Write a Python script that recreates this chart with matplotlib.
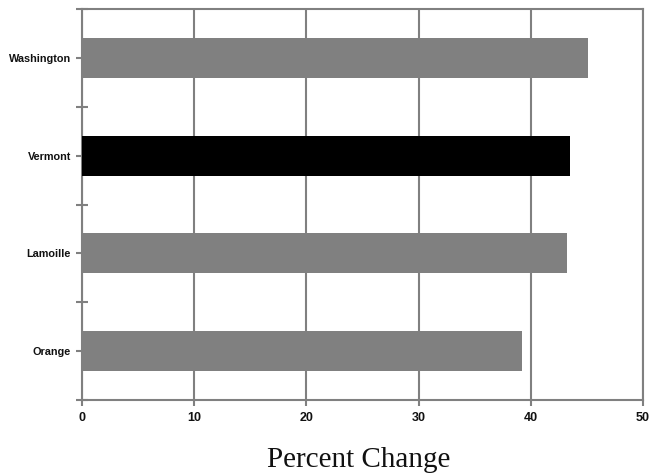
import matplotlib
matplotlib.use("Agg")
import matplotlib.pyplot as plt
from matplotlib.ticker import FixedLocator

categories = ["Orange", "Lamoille", "Vermont", "Washington"]
values = [39.2, 43.2, 43.5, 45.1]
bar_colors = ["#808080", "#808080", "#000000", "#808080"]
xticks = [0, 10, 20, 30, 40, 50]

fig = plt.figure(figsize=(6.59, 4.75), dpi=100)
ax = fig.add_axes([82/659, 1-400/475, (643-82)/659, (400-9)/475])

pos = list(range(len(categories)))
ax.barh(pos, values, height=0.41, color=bar_colors, zorder=3)

ax.set_xlim(0, 50)
ax.set_ylim(-0.5, len(categories) - 0.5)

gray = "#808080"
ax.set_xticks(xticks)
ax.grid(axis="x", color=gray, linewidth=1.5, zorder=1)
ax.grid(axis="y", visible=False)
for s in ax.spines.values():
    s.set_color(gray)
    s.set_linewidth(1.5)

# y: labels at category centers (minor), boundary ticks (major)
ax.yaxis.set_major_locator(FixedLocator([p - 0.5 for p in pos] + [pos[-1] + 0.5]))
ax.set_yticklabels([])
ax.yaxis.set_minor_locator(FixedLocator(pos))
ax.set_yticklabels(categories, minor=True)
ax.tick_params(axis="y", which="major", direction="inout", length=9, width=1.5, color=gray)
ax.tick_params(axis="y", which="minor", direction="out", length=4, width=1.5, color=gray, pad=4)
ax.tick_params(axis="x", direction="out", length=4, width=1.5, color=gray, pad=4.5)

fam = ["Liberation Sans Narrow", "Liberation Sans", "DejaVu Sans"]
for lab in ax.get_yticklabels(minor=True):
    lab.set_family(fam)
    lab.set_fontweight("bold")
    lab.set_fontsize(7.8)
    lab.set_color("#111111")
for lab in ax.get_xticklabels():
    lab.set_family(fam)
    lab.set_fontweight("bold")
    lab.set_fontsize(9)
    lab.set_color("#111111")

ax.set_xlabel("Percent Change", family=["Liberation Serif", "DejaVu Serif"],
              fontsize=21, color="#111111", va="center")
ax.xaxis.set_label_coords((359 - 82) / 561, (400 - 460) / 391)

fig.savefig("out.png", dpi=100)
